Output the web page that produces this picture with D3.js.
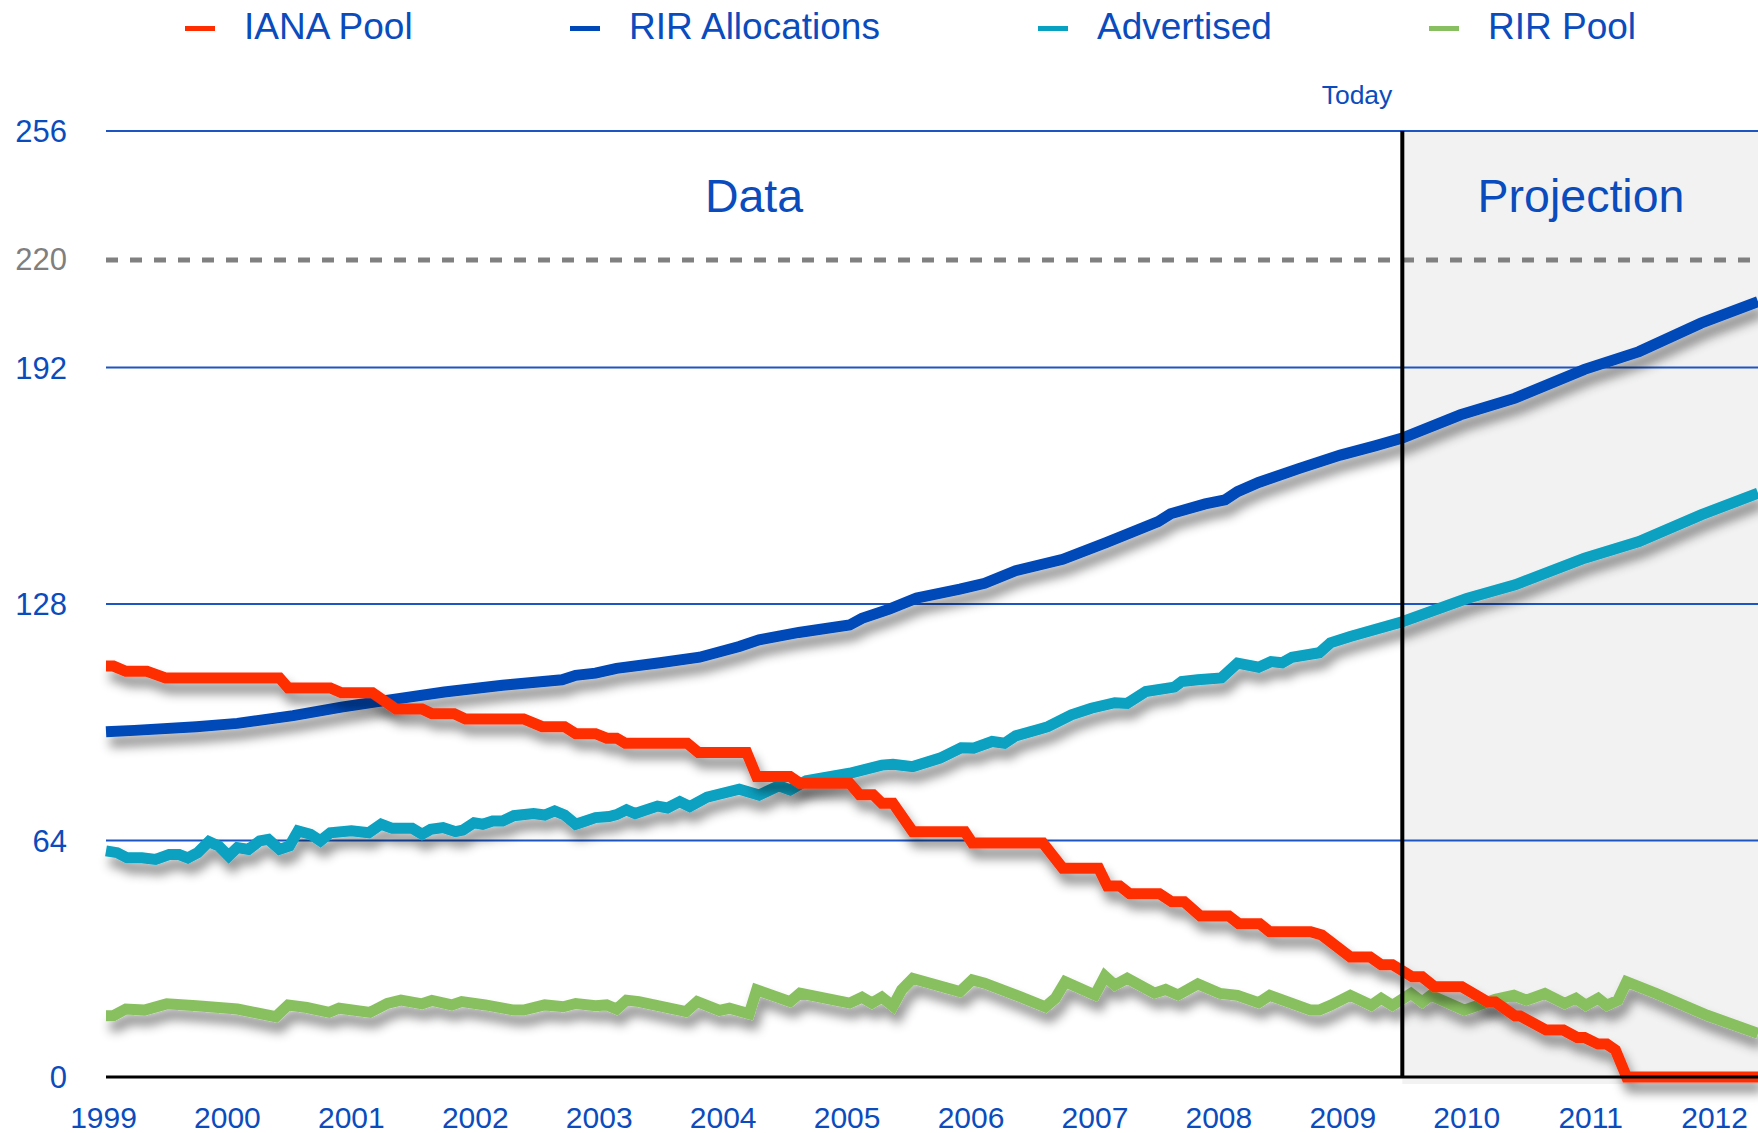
<!DOCTYPE html>
<html><head><meta charset="utf-8">
<script src="https://cdn.jsdelivr.net/npm/d3@7"></script>
<style>html,body{margin:0;padding:0;background:#fff;} svg{display:block;}</style>
</head><body><svg id="chart" width="1758" height="1133"></svg>
<script>
// ---------------- DATA ----------------
const yearTicks = [1999,2000,2001,2002,2003,2004,2005,2006,2007,2008,2009,2010,2011,2012];
const yTicks = [0, 64, 128, 192, 256];
const capValue = 220;
const todayYear = 2009.46;
const startYear = 1999;
const endYear = 2012.33;
const seriesNames = ["IANA Pool", "RIR Allocations", "Advertised", "RIR Pool"];

const ianaYears = [1999.00,1999.06,1999.16,1999.33,1999.48,2000.40,2000.47,2000.81,2000.90,2001.15,2001.34,2001.55,2001.63,2001.81,2001.90,2002.37,2002.52,2002.70,2002.79,2002.95,2003.04,2003.12,2003.19,2003.69,2003.78,2004.17,2004.25,2004.52,2004.60,2005.00,2005.08,2005.19,2005.26,2005.35,2005.51,2005.93,2005.99,2006.56,2006.72,2007.01,2007.08,2007.18,2007.26,2007.50,2007.60,2007.70,2007.83,2008.06,2008.14,2008.31,2008.39,2008.72,2008.81,2009.04,2009.20,2009.29,2009.38,2009.54,2009.62,2009.72,2009.94,2010.15,2010.21,2010.37,2010.41,2010.62,2010.76,2010.87,2010.93,2011.04,2011.11,2011.18,2011.27,2012.33];
const ianaValues = [111.2,111.2,109.8,109.8,108.0,108.0,105.3,105.3,104.0,104.0,99.6,99.6,98.3,98.3,96.9,96.9,94.8,94.8,92.9,92.9,91.7,91.7,90.3,90.3,87.8,87.8,81.3,81.3,79.5,79.5,76.4,76.4,74.1,74.1,66.4,66.4,63.3,63.3,56.5,56.5,51.7,51.7,49.6,49.6,47.4,47.4,43.6,43.6,41.5,41.5,39.3,39.3,38.4,32.5,32.5,30.4,30.4,27.1,27.1,24.4,24.4,20.3,20.3,16.5,16.5,12.7,12.7,10.7,10.7,8.9,8.9,7.3,0,0];

const rirAllocYears = [1999.00,1999.23,1999.73,2000.06,2000.51,2000.90,2001.18,2001.73,2002.20,2002.68,2002.79,2002.95,2003.12,2003.47,2003.79,2004.11,2004.27,2004.59,2005.00,2005.10,2005.32,2005.54,2005.89,2006.09,2006.34,2006.72,2007.07,2007.49,2007.59,2007.87,2008.03,2008.13,2008.30,2008.63,2008.96,2009.24,2009.46,2009.93,2010.37,2010.93,2011.37,2011.87,2012.33];
const rirAllocValues = [93.4,93.8,94.8,95.7,97.8,100.1,101.5,104.2,106.0,107.5,108.7,109.3,110.6,112.1,113.6,116.5,118.3,120.3,122.3,124.1,126.6,129.6,132.0,133.6,137.0,140.1,144.6,150.3,152.4,155.1,156.2,158.4,160.9,164.7,168.3,170.8,172.9,179.2,183.7,191.5,196.3,204.0,209.8];

const advertisedYears = [1999.00,1999.09,1999.17,1999.29,1999.40,1999.51,1999.59,1999.66,1999.74,1999.83,1999.91,1999.99,2000.06,2000.15,2000.24,2000.31,2000.40,2000.48,2000.55,2000.65,2000.73,2000.81,2000.98,2001.12,2001.22,2001.31,2001.47,2001.55,2001.62,2001.72,2001.82,2001.88,2001.97,2002.04,2002.12,2002.20,2002.29,2002.45,2002.54,2002.62,2002.70,2002.79,2002.87,2002.95,2003.06,2003.12,2003.20,2003.27,2003.45,2003.53,2003.63,2003.71,2003.85,2004.11,2004.27,2004.43,2004.52,2004.65,2005.00,2005.26,2005.35,2005.51,2005.73,2005.90,2006.00,2006.15,2006.25,2006.34,2006.53,2006.60,2006.79,2006.95,2007.14,2007.24,2007.39,2007.62,2007.68,2007.81,2008.00,2008.13,2008.30,2008.40,2008.49,2008.57,2008.79,2008.88,2009.04,2009.46,2009.98,2010.37,2010.93,2011.37,2011.87,2012.33];
const advertisedValues = [61.2,60.7,59.3,59.3,58.9,60.2,60.2,59.3,60.7,63.7,62.5,59.8,62.1,61.6,63.9,64.3,61.6,62.5,66.6,65.7,63.9,66.1,66.6,66.1,68.4,67.3,67.3,65.7,67.0,67.5,66.4,66.8,68.8,68.4,69.3,69.3,70.7,71.3,70.9,72.0,70.9,68.4,69.3,70.2,70.5,71.0,72.3,71.3,73.3,72.8,74.5,73.2,75.7,77.9,76.3,78.8,77.7,80.2,82.2,84.4,84.6,84.0,86.3,89.1,89.0,90.8,90.3,92.3,94.1,94.8,98.0,99.8,101.3,101.1,104.3,105.5,107.0,107.5,108.0,112.0,110.9,112.4,112.1,113.6,114.8,117.5,119.2,123.2,129.5,133.2,140.4,144.9,152.1,158.0];

const rirPoolYears = [1999.00,1999.06,1999.16,1999.31,1999.49,1999.73,2000.06,2000.37,2000.47,2000.62,2000.80,2000.88,2001.13,2001.27,2001.38,2001.55,2001.63,2001.79,2001.87,2002.06,2002.29,2002.37,2002.54,2002.69,2002.79,2002.95,2003.04,2003.12,2003.20,2003.30,2003.68,2003.77,2003.95,2004.03,2004.19,2004.25,2004.52,2004.60,2005.00,2005.10,2005.18,2005.26,2005.35,2005.42,2005.51,2005.89,2005.99,2006.09,2006.37,2006.58,2006.66,2006.74,2006.98,2007.06,2007.14,2007.24,2007.46,2007.55,2007.65,2007.81,2007.99,2008.13,2008.30,2008.39,2008.72,2008.79,2008.88,2009.04,2009.21,2009.29,2009.38,2009.53,2009.62,2009.69,2009.96,2010.21,2010.36,2010.46,2010.61,2010.77,2010.86,2010.94,2011.04,2011.11,2011.20,2011.27,2011.51,2011.92,2012.33];
const rirPoolValues = [16.6,16.6,18.4,18.1,19.8,19.3,18.4,16.3,19.5,18.8,17.5,18.6,17.5,19.9,20.8,19.8,20.7,19.5,20.4,19.5,18.1,18.1,19.5,19.0,19.9,19.3,19.5,18.4,20.8,20.4,17.7,20.4,18.0,18.6,17.1,23.6,20.4,22.7,20.0,21.6,20.0,21.6,19.2,23.6,26.7,23.1,26.3,25.4,21.8,19.0,21.3,25.8,22.2,27.3,24.9,26.7,22.7,23.7,22.2,25.2,22.6,22.1,20.1,22.1,18.1,18.1,19.4,22.1,19.4,21.3,19.4,22.6,20.3,22.1,18.1,21.0,22.1,20.8,22.6,19.9,21.3,19.4,21.3,19.4,20.8,25.8,22.6,16.7,11.8];

// ---------------- STYLE ----------------
const FONT = "'Liberation Sans', Arial, Helvetica, sans-serif";
const TEXT_BLUE = "#0a4cbd";
const GRID_BLUE = "#1d55c2";
const COLORS = {"IANA Pool":"#ff2d00","RIR Allocations":"#0048b8","Advertised":"#08a1c1","RIR Pool":"#88c061"};

const svg = d3.select("#chart");
svg.append("rect").attr("width",1758).attr("height",1133).attr("fill","#fff");

const x = d3.scaleLinear().domain([startYear, endYear]).range([106, 1758]);
const y = d3.scaleLinear().domain([0, 256]).range([1077, 131]);

// shadow filter
const defs = svg.append("defs");
const f = defs.append("filter").attr("id","shadow")
  .attr("filterUnits","userSpaceOnUse").attr("x",0).attr("y",0).attr("width",1758).attr("height",1133);
f.append("feDropShadow").attr("dx",4).attr("dy",10).attr("stdDeviation",5.5)
  .attr("flood-color","#000").attr("flood-opacity",0.45);

// projection region
svg.append("rect")
  .attr("x", x(todayYear)).attr("y", y(256))
  .attr("width", x(endYear) - x(todayYear)).attr("height", 1084 - y(256))
  .attr("fill", "#f2f2f2");

// gridlines
svg.append("g").selectAll("line").data(yTicks.filter(d => d > 0)).join("line")
  .attr("x1", x(startYear)).attr("x2", x(endYear))
  .attr("y1", d => y(d)).attr("y2", d => y(d))
  .attr("stroke", GRID_BLUE).attr("stroke-width", 2);

// cap dashed line
svg.append("line")
  .attr("x1", x(startYear)).attr("x2", x(endYear))
  .attr("y1", y(capValue) - 4).attr("y2", y(capValue) - 4)
  .attr("stroke", "#808080").attr("stroke-width", 5).attr("stroke-dasharray", "12,12");

// y axis labels
const yAxis = d3.axisLeft(y).tickValues(yTicks.concat([capValue])).tickSize(0).tickPadding(39)
  .tickFormat(d3.format("d"));
const yg = svg.append("g").attr("transform", `translate(${x(startYear)},0)`).call(yAxis);
yg.select(".domain").remove();
yg.selectAll("text").attr("font-family", FONT).attr("font-size", 31)
  .attr("fill", d => d === capValue ? "#7f7f7f" : TEXT_BLUE)
  .attr("dy", d => d === capValue ? "0.32em" : "0.34em")
  .attr("transform", d => d === capValue ? "translate(0,-4)" : null);

// x axis labels
const xAxis = d3.axisBottom(x).tickValues(yearTicks).tickSize(0).tickPadding(30).tickFormat(d3.format("d"));
const xg = svg.append("g").attr("transform", `translate(-3,${y(0)})`).call(xAxis);
xg.select(".domain").remove();
xg.selectAll("text").attr("font-family", FONT).attr("font-size", 30).attr("fill", TEXT_BLUE).attr("dy", "0.71em").attr("y", 30);

// series lines
const line = d3.line().x(d => x(d[0])).y(d => y(d[1])).curve(d3.curveLinear);
const series = [
  {name: "RIR Pool", xs: rirPoolYears, vs: rirPoolValues},
  {name: "Advertised", xs: advertisedYears, vs: advertisedValues},
  {name: "RIR Allocations", xs: rirAllocYears, vs: rirAllocValues},
  {name: "IANA Pool", xs: ianaYears, vs: ianaValues}
];
const lg = svg.append("g");
series.forEach(s => {
  const pts = s.xs.map((t, i) => [t, s.vs[i]]);
  lg.append("path").datum(pts).attr("d", line)
    .attr("fill", "none").attr("stroke", COLORS[s.name]).attr("stroke-width", 11)
    .attr("stroke-linejoin", "miter").attr("stroke-miterlimit", 3).attr("stroke-linecap", "butt")
    .attr("filter", "url(#shadow)");
});

// zero axis line
svg.append("line").attr("x1", x(startYear)).attr("x2", x(endYear))
  .attr("y1", y(0)).attr("y2", y(0)).attr("stroke", "#000").attr("stroke-width", 3);

// today line
svg.append("line").attr("x1", x(todayYear)).attr("x2", x(todayYear))
  .attr("y1", y(256)).attr("y2", y(0)).attr("stroke", "#000").attr("stroke-width", 4);

// annotations
svg.append("text").attr("x", 1357).attr("y", 104).attr("text-anchor", "middle")
  .attr("font-family", FONT).attr("font-size", 26.5).attr("fill", TEXT_BLUE).text("Today");
svg.append("text").attr("x", 754).attr("y", 212).attr("text-anchor", "middle")
  .attr("font-family", FONT).attr("font-size", 46.5).attr("fill", TEXT_BLUE).text("Data");
svg.append("text").attr("x", 1581).attr("y", 212).attr("text-anchor", "middle")
  .attr("font-family", FONT).attr("font-size", 46.5).attr("fill", TEXT_BLUE).text("Projection");

// legend
const legendX = [185, 570, 1038, 1429];
const legend = svg.append("g");
seriesNames.forEach((n, i) => {
  legend.append("rect").attr("x", legendX[i]).attr("y", 26).attr("width", 30).attr("height", 5)
    .attr("fill", COLORS[n]);
  legend.append("text").attr("x", legendX[i] + 59).attr("y", 39)
    .attr("font-family", FONT).attr("font-size", 37).attr("fill", TEXT_BLUE).text(n);
});
</script></body></html>
